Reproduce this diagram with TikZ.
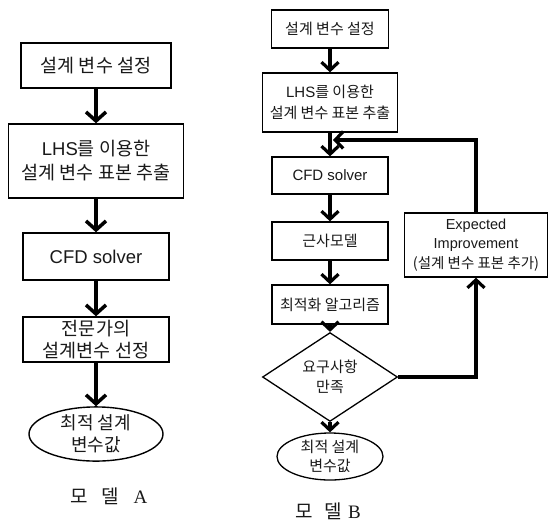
\documentclass[tikz,border=0pt]{standalone}
\usepackage{fontspec}
\setmainfont{Noto Sans CJK KR}
\newfontfamily\serifl{Liberation Serif}
\newfontfamily\latn{Liberation Sans}
\usetikzlibrary{arrows.meta,shapes.geometric}
\begin{document}
\begin{tikzpicture}[x=1pt,y=-1pt,
  boxA/.style={draw, line width=1.4pt, rectangle, inner sep=0pt, align=center, text=black!90, font=\fontsize{18.5}{24}\selectfont},
  boxB/.style={draw, line width=1.3pt, rectangle, inner sep=0pt, align=center, text=black!90, font=\fontsize{15}{21}\selectfont},
  ellA/.style={draw, line width=1.4pt, ellipse, inner sep=0pt, align=center, text=black!90, font=\fontsize{18}{22}\selectfont},
  ellB/.style={draw, line width=1.3pt, ellipse, inner sep=0pt, align=center, text=black!90, font=\fontsize{15}{19}\selectfont},
  decB/.style={draw, line width=1.3pt, diamond, inner sep=0pt, align=center, text=black!90, font=\fontsize{15}{20}\selectfont},
  flowA/.style={line width=3.5pt, -{Straight Barb[length=9pt,width=20pt]}},
  flowB/.style={line width=3.2pt, -{Straight Barb[length=8pt,width=17pt]}},
  loopB/.style={line width=3.2pt, line join=miter},
  lbl/.style={inner sep=0pt, font=\fontsize{19}{21}\selectfont, text=black!90}
]
\useasboundingbox (0,0) rectangle (548,525);
\fill[white] (0,0) rectangle (548,525);

% Model A
\node[boxA, minimum width=150pt, minimum height=45pt] (a1) at (96,65.5) {설계 변수 설정};
\node[boxA, minimum width=175pt, minimum height=74pt] (a2) at (96,161) {{\latn LHS}를 이용한\\설계 변수 표본 추출};
\node[boxA, minimum width=146pt, minimum height=47pt] (a3) at (96,256.5) {\latn CFD solver};
\node[boxA, minimum width=146pt, minimum height=45pt, font=\fontsize{18.5}{22}\selectfont] (a4) at (96,339.5) {전문가의\\설계변수 선정};
\node[ellA, minimum width=134pt, minimum height=52pt] (a5) at (96,434) {최적 설계\\변수값};
\draw[flowA] (a1) -- (a2);
\draw[flowA] (a2) -- (a3);
\draw[flowA] (a3) -- (a4);
\draw[flowA] (a4) -- (a5);
\node[lbl] (la) at (109,496) {모\hspace{13pt}델\hspace{15pt}{\serifl A}};

% Model B
\node[boxB, minimum width=117pt, minimum height=38pt] (b1) at (330,29) {설계 변수 설정};
\node[boxB, minimum width=135pt, minimum height=59pt] (b2) at (330,102.5) {{\latn LHS}를 이용한\\설계 변수 표본 추출};
\node[boxB, minimum width=116pt, minimum height=37pt] (b3) at (330,175.5) {\latn CFD solver};
\node[boxB, minimum width=116pt, minimum height=38pt] (b4) at (330,241) {근사모델};
\node[boxB, minimum width=116pt, minimum height=39pt] (b5) at (330,304.5) {최적화 알고리즘};
\node[decB, minimum width=135pt, minimum height=53pt] (b6) at (330,377) {요구사항\\만족};
\node[ellB, minimum width=106pt, minimum height=47pt] (b7) at (330,456.5) {최적 설계\\변수값};
\node[boxB, minimum width=143pt, minimum height=64pt, font=\fontsize{14.5}{19.5}\selectfont] (ei) at (476,245) {{\latn Expected}\\{\latn Improvement}\\(설계 변수 표본 추가)};
\coordinate (m) at (333,140);
\draw[flowB] (b1) -- (b2);
\draw[flowB] (b2) -- (b3);
\draw[flowB] (b3) -- (b4);
\draw[flowB] (b4) -- (b5);
\draw[flowB] (b5) -- (b6);
\draw[flowB] (b6) -- (b7);
\draw[loopB, -{Straight Barb[length=8pt,width=17pt]}] (b6.east) -| (ei.south);
\draw[loopB, -{Straight Barb[length=8pt,width=17pt]}] (ei.north) |- (m);
\node[lbl] (lb) at (328,511) {모\hspace{12pt}델\hspace{6pt}{\serifl B}};
\end{tikzpicture}
\end{document}
